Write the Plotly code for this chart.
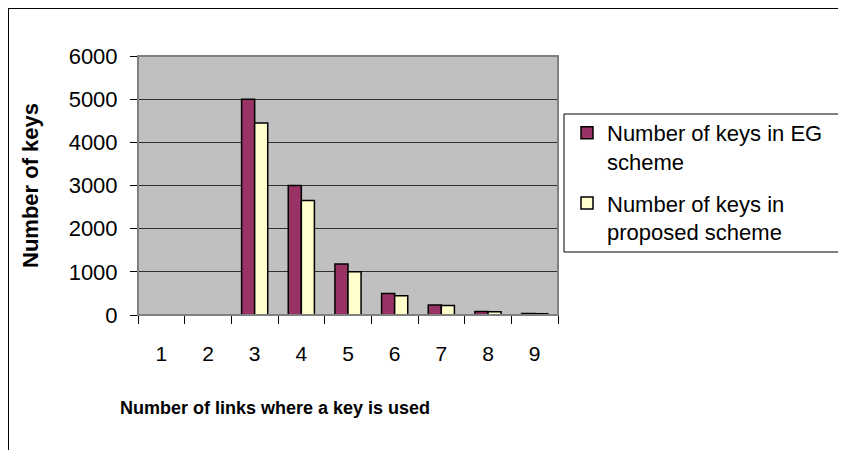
import plotly.graph_objects as go

categories = ["1", "2", "3", "4", "5", "6", "7", "8", "9"]
eg_keys = [0, 0, 5000, 3000, 1180, 500, 230, 80, 35]
proposed_keys = [0, 0, 4450, 2650, 1000, 445, 220, 75, 30]
y_ticks = [0, 1000, 2000, 3000, 4000, 5000, 6000]

OFF = 8  # page body margin of the browser
W, H = 846 - OFF, 450 - OFF
L, R, T, B = 138, 558, 56, 315  # plot area in reference pixels


def px(x):
    return (x - L) / (R - L)


def py(y):
    return (B - y) / (B - T)


fig = go.Figure()
fig.add_trace(go.Bar(
    x=categories, y=eg_keys, name="Number of keys in EG<br>scheme",
    marker=dict(color="#993366", line=dict(color="black", width=1.5)),
    legendgroup="a",
))
fig.add_trace(go.Bar(
    x=categories, y=proposed_keys, name="Number of keys in<br>proposed scheme",
    marker=dict(color="#FFFFCC", line=dict(color="black", width=1.5)),
    legendgroup="b",
))

font_family = "Arial, Liberation Sans, sans-serif"

fig.update_layout(
    width=W, height=H,
    margin=dict(l=L - OFF, r=846 - R, t=T - OFF, b=450 - B, pad=0),
    paper_bgcolor="white",
    plot_bgcolor="#C0C0C0",
    barmode="group",
    bargap=0.44,
    bargroupgap=0,
    font=dict(family=font_family, color="black"),
    showlegend=True,
    legend=dict(
        x=px(567), y=py(112), xanchor="left", yanchor="top",
        bgcolor="rgba(0,0,0,0)", borderwidth=0,
        font=dict(size=22, family=font_family),
        valign="top", traceorder="grouped", tracegroupgap=10,
    ),
    xaxis=dict(
        type="category", tickson="boundaries", ticks="outside", ticklen=8,
        tickcolor="black", tickwidth=1, showgrid=False, showline=True,
        linecolor="black", linewidth=1, tickfont=dict(size=21),
        ticklabelstandoff=20,
    ),
    yaxis=dict(
        range=[0, 6000], tickvals=y_ticks, ticks="outside", ticklen=7,
        tickcolor="black", showgrid=True, gridcolor="#303030", gridwidth=1,
        showline=True, linecolor="black", linewidth=1, zeroline=False,
        tickfont=dict(size=22), ticklabelstandoff=8,
    ),
    shapes=[
        # plot area border
        dict(type="rect", xref="paper", yref="paper", x0=0, y0=0, x1=1, y1=1,
             line=dict(color="#808080", width=2), layer="above"),
        # chart frame (top and left edges; the rest lies outside the picture)
        dict(type="line", xref="paper", yref="paper", x0=px(8), y0=py(8),
             x1=px(846), y1=py(8), line=dict(color="black", width=2)),
        dict(type="line", xref="paper", yref="paper", x0=px(8), y0=py(8),
             x1=px(8), y1=py(450), line=dict(color="black", width=2)),
        # legend box (right edge lies outside the picture)
        dict(type="line", xref="paper", yref="paper", x0=px(564), y0=py(114),
             x1=px(846), y1=py(114), line=dict(color="black", width=1)),
        dict(type="line", xref="paper", yref="paper", x0=px(564), y0=py(252),
             x1=px(846), y1=py(252), line=dict(color="black", width=1)),
        dict(type="line", xref="paper", yref="paper", x0=px(564), y0=py(114),
             x1=px(564), y1=py(252), line=dict(color="black", width=1)),
    ],
    annotations=[
        dict(text="<b>Number of keys</b>", xref="paper", yref="paper",
             x=px(30), y=py(186), xanchor="center", yanchor="middle",
             textangle=-90, showarrow=False,
             font=dict(size=22, family=font_family)),
        dict(text="<b>Number of links where a key is used</b>", xref="paper",
             yref="paper", x=px(275), y=py(408), xanchor="center",
             yanchor="middle", showarrow=False,
             font=dict(size=18, family=font_family)),
    ],
)

fig.write_html("out.html")
